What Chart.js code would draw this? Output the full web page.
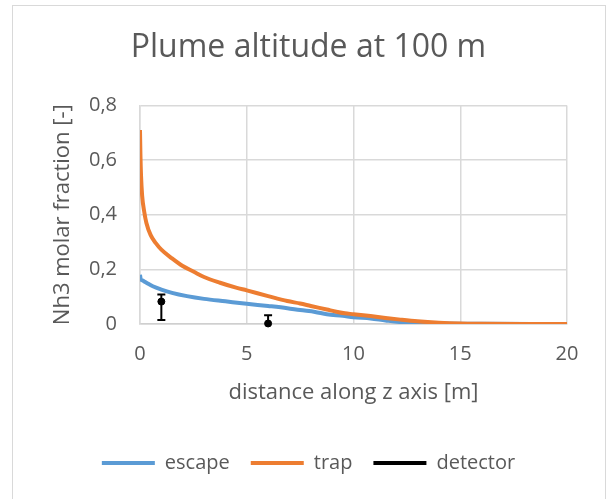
<!DOCTYPE html>
<html>
<head>
<meta charset="utf-8">
<script src="https://cdn.jsdelivr.net/npm/chart.js@4.4.1/dist/chart.umd.min.js"></script>
<style>
  html, body { margin: 0; width: 609px; height: 499px; overflow: hidden; background: #fff; }
  #frame { position: absolute; left: 12px; top: 5px; width: 592px; height: 520px; border: 1px solid #d9d9d9; }
  #plume { position: absolute; left: 0; top: 0; }
</style>
</head>
<body>
<div id="frame"></div>
<canvas id="plume" width="609" height="499"></canvas>
<script>
// Ammonia fraction along the z axis, plume at 100 m
const escapeX = [0, 0.03, 0.1, 0.3, 0.6, 1.0, 1.5, 2.2, 3.0, 4.0, 5.0, 6.0, 6.9, 7.5, 8.2, 8.75, 9.5, 10.0, 10.8, 11.5, 12.2, 13.0, 14.0, 15.0, 16.0, 20.0];
const escapeY = [0.18, 0.165, 0.16, 0.151, 0.138, 0.126, 0.114, 0.102, 0.092, 0.083, 0.074, 0.066, 0.058, 0.051, 0.044, 0.036, 0.03, 0.025, 0.02, 0.013, 0.007, 0.004, 0.002, 0.001, 0.0005, 0.0001];

const trapX = [0, 0.02, 0.05, 0.1, 0.2, 0.3, 0.5, 0.75, 1.0, 1.5, 2.0, 2.5, 3.0, 3.75, 4.5, 5.0, 6.0, 6.9, 7.5, 8.0, 8.75, 9.2, 9.6, 10.0, 10.8, 11.5, 12.2, 13.0, 14.0, 15.0, 16.0, 18.0, 20.0];
const trapY = [0.71, 0.62, 0.54, 0.47, 0.41, 0.37, 0.325, 0.295, 0.272, 0.24, 0.212, 0.192, 0.172, 0.151, 0.133, 0.123, 0.102, 0.084, 0.075, 0.066, 0.053, 0.045, 0.039, 0.036, 0.029, 0.022, 0.016, 0.01, 0.005, 0.002, 0.001, 0.0003, 0.0001];

// measured points with their error range
const detectorX = [1, 6];
const detectorY = [0.082, 0.002];
const detectorLow = [0.015, -0.028];
const detectorHigh = [0.108, 0.032];

const xTicks = [0, 5, 10, 15, 20];
const yTicks = [0, 0.2, 0.4, 0.6, 0.8];

const textColor = '#595959';
const gridColor = '#d9d9d9';
const font = 'Open Sans';

function toPoints(xs, ys) {
    return xs.map((v, i) => ({ x: v, y: ys[i] }));
}

function comma(v) {
    return v === 0 ? '0' : v.toFixed(1).replace('.', ',');
}

// vertical error bars for the detector readings
const errorBars = {
    id: 'errorBars',
    afterDatasetsDraw(chart) {
        const { ctx, chartArea, scales: { x, y } } = chart;
        ctx.save();
        ctx.beginPath();
        ctx.rect(chartArea.left, chartArea.top - 5, chartArea.width, chartArea.height + 5);
        ctx.clip();
        ctx.strokeStyle = '#000';
        ctx.lineWidth = 2;
        detectorX.forEach((dx, i) => {
            const px = x.getPixelForValue(dx);
            const top = y.getPixelForValue(detectorHigh[i]);
            const bottom = y.getPixelForValue(detectorLow[i]);
            ctx.beginPath();
            ctx.moveTo(px, top);
            ctx.lineTo(px, bottom);
            ctx.moveTo(px - 4, top);
            ctx.lineTo(px + 4, top);
            ctx.moveTo(px - 4, bottom);
            ctx.lineTo(px + 4, bottom);
            ctx.stroke();
        });
        ctx.restore();
    }
};

new Chart(document.getElementById('plume'), {
    type: 'scatter',
    data: {
        datasets: [{
            label: 'escape',
            data: toPoints(escapeX, escapeY),
            showLine: true,
            borderColor: '#5b9bd5',
            borderWidth: 4,
            pointRadius: 0,
            cubicInterpolationMode: 'monotone',
            order: 2
        }, {
            label: 'trap',
            data: toPoints(trapX, trapY),
            showLine: true,
            borderColor: '#ed7d31',
            borderWidth: 4,
            pointRadius: 0,
            cubicInterpolationMode: 'monotone',
            order: 1
        }, {
            label: 'detector',
            data: toPoints(detectorX, detectorY),
            showLine: false,
            borderColor: '#000',
            backgroundColor: '#000',
            pointRadius: 3.5,
            pointStyle: 'circle',
            clip: false,
            order: 0
        }]
    },
    options: {
        responsive: false,
        animation: false,
        layout: { padding: { left: 50, right: 42, top: 0, bottom: 16 } },
        plugins: {
            title: {
                display: true,
                text: 'Plume altitude at 100 m',
                color: textColor,
                font: { family: font, size: 32, weight: 'normal' },
                padding: { top: 29, bottom: 38 }
            },
            legend: {
                position: 'bottom',
                labels: {
                    color: textColor,
                    font: { family: font, size: 20 },
                    boxWidth: 53,
                    boxHeight: 4,
                    padding: 21,
                    generateLabels: chart => chart.data.datasets.map((ds, i) => ({
                        text: ds.label,
                        fillStyle: ds.borderColor,
                        strokeStyle: ds.borderColor,
                        lineWidth: 0,
                        fontColor: textColor,
                        hidden: false,
                        datasetIndex: i
                    }))
                }
            },
            tooltip: { enabled: false }
        },
        scales: {
            x: {
                type: 'linear',
                min: 0,
                max: 20,
                afterBuildTicks: s => { s.ticks = xTicks.map(v => ({ value: v })); },
                afterFit: s => { s.height = 108; },
                grid: { color: gridColor, lineWidth: 1.5, drawTicks: false },
                border: { color: '#cfcfcf', width: 1.5 },
                ticks: { color: textColor, font: { family: font, size: 20 }, padding: 18 },
                title: {
                    display: true,
                    text: 'distance along z axis [m]',
                    color: textColor,
                    font: { family: font, size: 22 },
                    padding: { top: 0, bottom: 26 }
                }
            },
            y: {
                min: 0,
                max: 0.8,
                afterBuildTicks: s => { s.ticks = yTicks.map(v => ({ value: v })); },
                afterFit: s => { s.width = 90; },
                grid: { color: gridColor, lineWidth: 1.5, drawTicks: false },
                border: { color: gridColor, width: 1.5 },
                ticks: { color: textColor, font: { family: font, size: 20 }, padding: 23, callback: v => comma(v) },
                title: {
                    display: true,
                    text: 'Nh3 molar fraction [-]',
                    color: textColor,
                    font: { family: font, size: 22 },
                    padding: { top: 0, bottom: 0 }
                }
            }
        }
    },
    plugins: [errorBars]
});
</script>
</body>
</html>
